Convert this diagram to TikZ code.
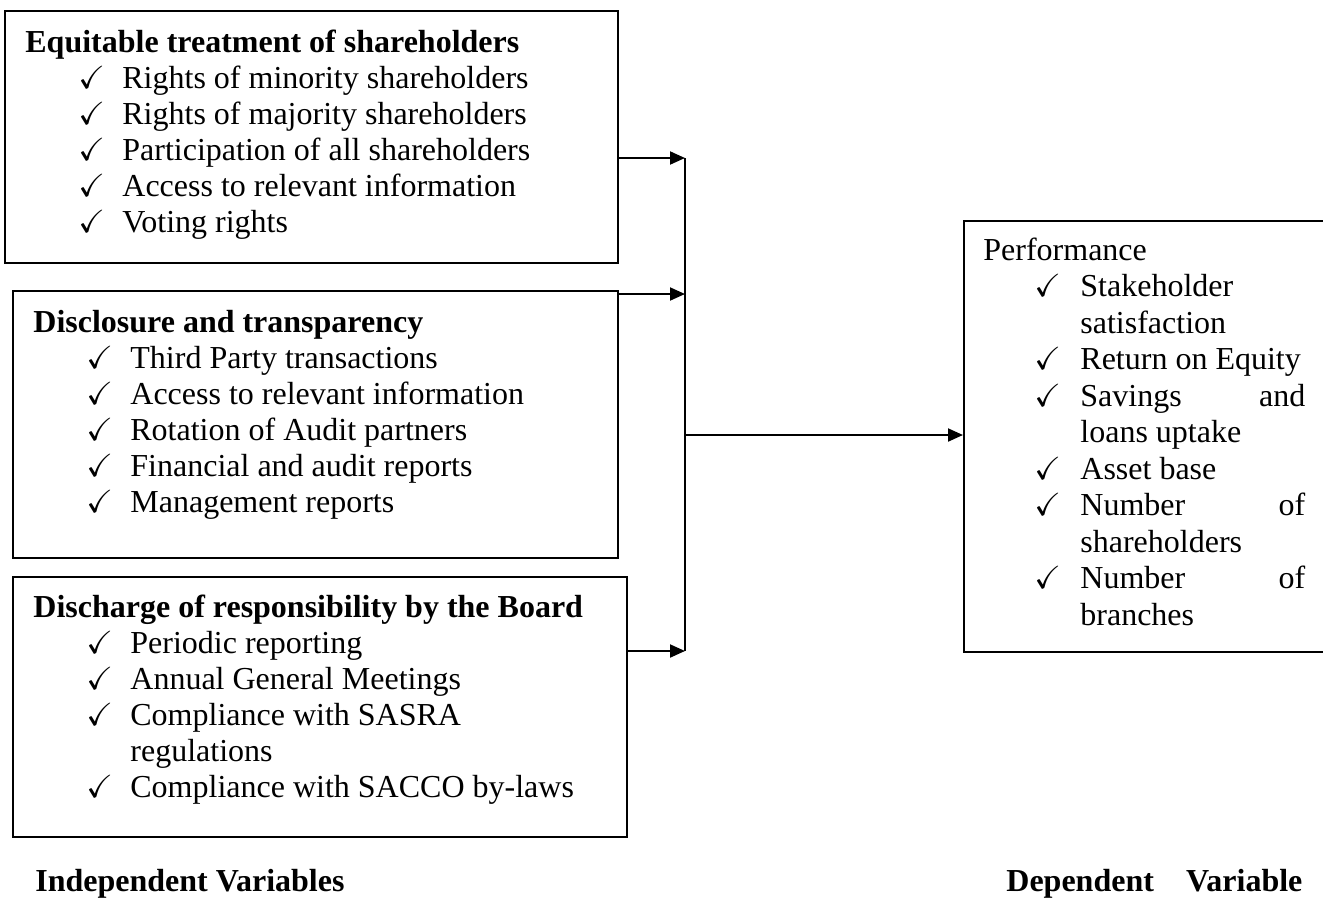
\documentclass[tikz,border=0pt]{standalone}
\usepackage{fontspec}
\setmainfont{Liberation Serif}
\usepackage{amssymb}
\usetikzlibrary{arrows.meta}
\begin{document}
\begin{tikzpicture}[
    x=0.5pt, y=-0.5pt,
    every node/.style={inner sep=0pt, font=\fontsize{16}{18}\selectfont},
    box/.style={draw, line width=0.8pt, anchor=north west},
    head/.style={anchor=base west, font=\fontsize{16}{18}\selectfont\bfseries},
    item/.style={anchor=base west},
    tick/.style={anchor=base west, text height=1.3ex, text depth=0pt, font=\fontsize{16}{18}\selectfont},
    link/.style={line width=1pt},
    arr/.style={line width=1pt, -{Triangle[length=7.5pt, width=6.5pt]}},
]
\clip (0,0) rectangle (1323,907);

\node[box, minimum width=306.5pt, minimum height=126pt] (eq) at (4,10) {};
\node[head] (eqh) at (25,52) {Equitable treatment of shareholders};
\foreach \t [count=\i] in {Rights of minority shareholders, Rights of majority shareholders,
    Participation of all shareholders, Access to relevant information, Voting rights} {
  \node[tick] (eqt\i) at (78,{52+36*\i}) {$\checkmark$};
  \node[item] (eqi\i) at (122,{52+36*\i}) {\t};
}

\node[box, minimum width=302.5pt, minimum height=133.5pt] (dis) at (12,290) {};
\node[head] (dish) at (33,332) {Disclosure and transparency};
\foreach \t [count=\i] in {Third Party transactions, Access to relevant information,
    Rotation of Audit partners, Financial and audit reports, Management reports} {
  \node[tick] (dist\i) at (86,{332+36*\i}) {$\checkmark$};
  \node[item] (disi\i) at (130,{332+36*\i}) {\t};
}

\node[box, minimum width=307pt, minimum height=130pt] (dbo) at (12,576) {};
\node[head] (dboh) at (33,617) {Discharge of responsibility by the Board};
\foreach \t/\c [count=\i] in {Periodic reporting/1, Annual General Meetings/1,
    Compliance with SASRA/1, regulations/0, Compliance with SACCO by-laws/1} {
  \ifnum\c=1 \node[tick] (dbot\i) at (86,{617+36*\i}) {$\checkmark$}; \fi
  \node[item] (dboi\i) at (130,{617+36*\i}) {\t};
}

\node[box, minimum width=250pt, minimum height=215.5pt] (perf) at (963,220) {};
\node[item] (perfh) at (983,260) {Performance};
\foreach \t/\c [count=\i] in {Stakeholder/1, satisfaction/0, Return on Equity/1,
    {\makebox[112.5pt][s]{Savings and}}/1, loans uptake/0, Asset base/1,
    {\makebox[112.5pt][s]{Number of}}/1, shareholders/0,
    {\makebox[112.5pt][s]{Number of}}/1, branches/0} {
  \ifnum\c=1 \node[tick] (perft\i) at (1034,{260+36.5*\i}) {$\checkmark$}; \fi
  \node[item] (perfi\i) at (1080,{260+36.5*\i}) {\t};
}

\node[head] (indep) at (35,891) {Independent Variables};
\node[head] (dep) at (1006,891) {\makebox[148pt][s]{Dependent Variable}};

\coordinate (j1) at (685,158);
\coordinate (j2) at (685,294);
\coordinate (j3) at (685,651);
\coordinate (jm) at (685,435);
\draw[arr] (j1 -| eq.east) -- (j1);
\draw[arr] (j2 -| dis.east) -- (j2);
\draw[arr] (j3 -| dbo.east) -- (j3);
\draw[link] (j1) -- (j3);
\draw[arr] (jm) -- (jm -| perf.west);
\end{tikzpicture}
\end{document}
